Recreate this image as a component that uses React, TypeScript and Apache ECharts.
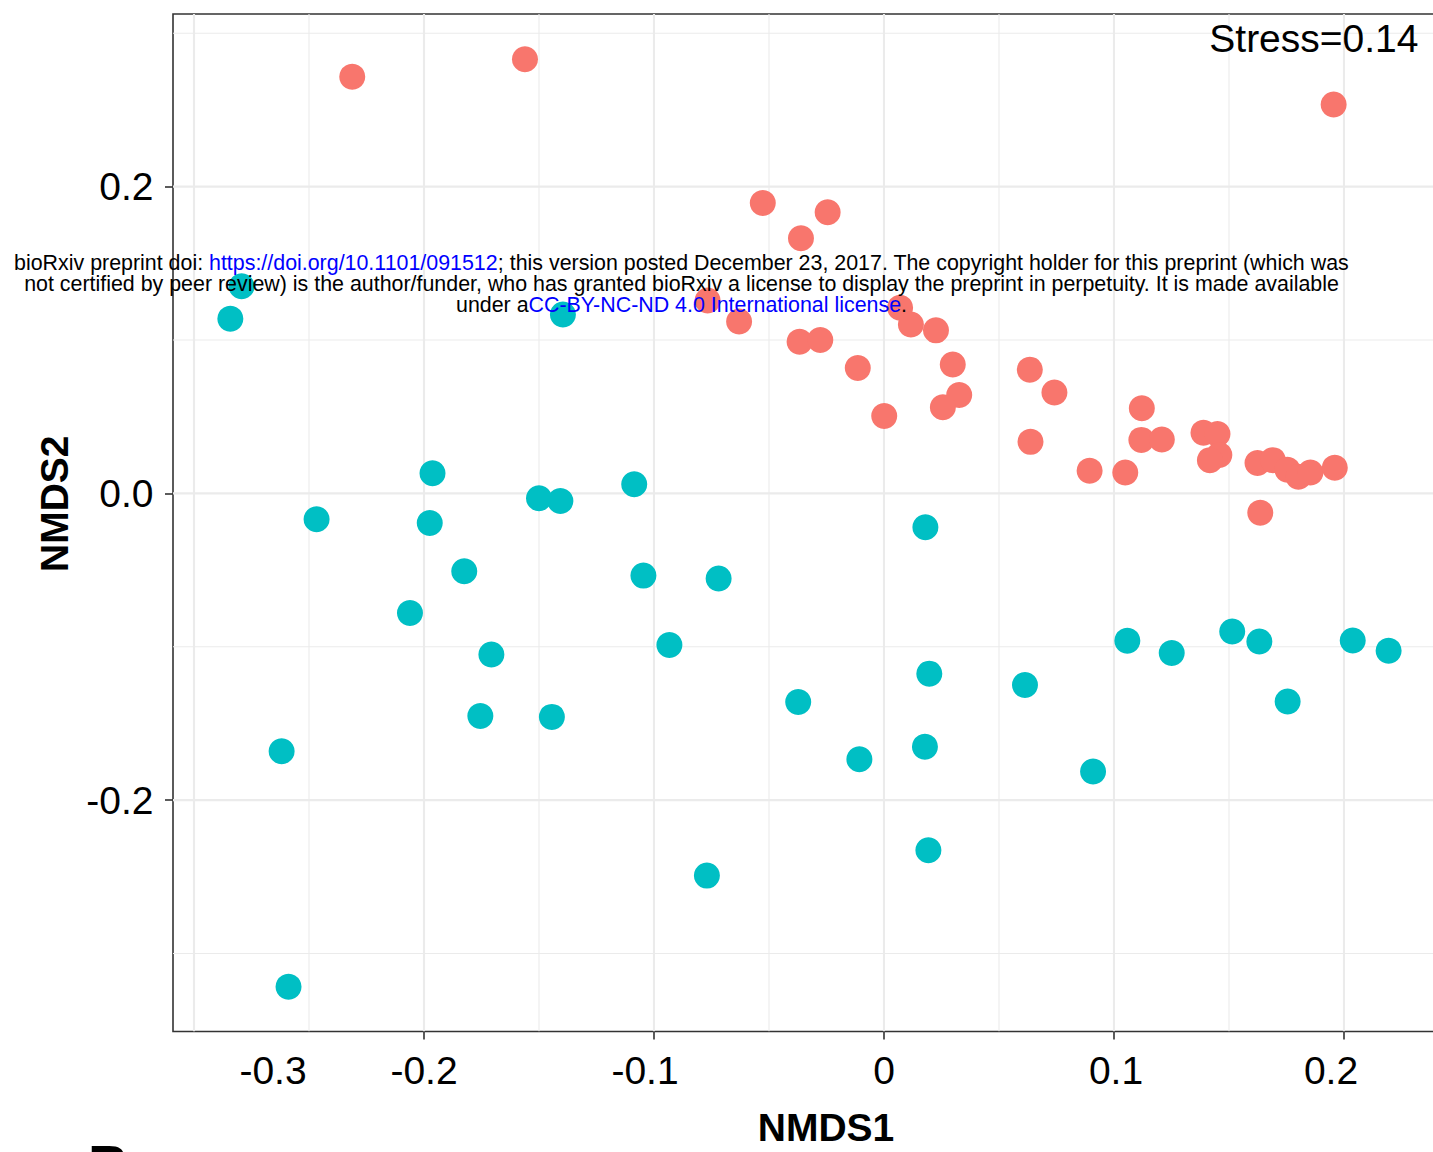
import React, { useEffect, useRef } from 'react';
import * as echarts from 'echarts';

// ---- data (NMDS scores) ----
const group1NMDS1 = [
  -0.2312, -0.1561, 0.1955, -0.0527, -0.0245, -0.0361, -0.0767, -0.063, 0.007, 0.0117,
  0.0226, -0.0367, -0.0277, -0.0114, 0.0299, 0.0327, 0.0256, 0.0001, 0.0634, 0.0741,
  0.0637, 0.1121, 0.1119, 0.1208, 0.1389, 0.145, 0.1458, 0.1417, 0.0894, 0.1049,
  0.1624, 0.1691, 0.1754, 0.1802, 0.1854, 0.196, 0.1636,
];
const group1NMDS2 = [
  0.2716, 0.2831, 0.2535, 0.1894, 0.1833, 0.1664, 0.1258, 0.1121, 0.1211, 0.1102,
  0.1063, 0.0989, 0.1, 0.0818, 0.084, 0.0642, 0.0562, 0.0505, 0.0807, 0.0658,
  0.0336, 0.0555, 0.0349, 0.0352, 0.0395, 0.0388, 0.025, 0.0217, 0.0147, 0.0137,
  0.0199, 0.0217, 0.0154, 0.0108, 0.0137, 0.0167, -0.0126,
];
const group2NMDS1 = [
  -0.2793, -0.2842, -0.1396, -0.1963, -0.2467, -0.1975, -0.15, -0.1407, -0.1086, -0.1825,
  -0.1046, -0.0719, -0.2061, -0.0933, -0.1707, -0.1755, -0.1444, -0.2619, -0.0373, -0.0107,
  0.0178, -0.077, 0.0193, -0.2589, 0.018, 0.0197, 0.0613, 0.0909, 0.1058, 0.1251,
  0.1514, 0.1632, 0.1755, 0.2038, 0.2194,
];
const group2NMDS2 = [
  0.1351, 0.1139, 0.1167, 0.0132, -0.0169, -0.0193, -0.0032, -0.005, 0.0059, -0.0507,
  -0.0536, -0.0555, -0.0779, -0.0989, -0.105, -0.1451, -0.1457, -0.1681, -0.136, -0.1733,
  -0.1652, -0.2492, -0.2327, -0.3217, -0.0221, -0.1175, -0.1249, -0.1813, -0.0961, -0.1041,
  -0.09, -0.0965, -0.1356, -0.0959, -0.1026,
];

// axis limits and breaks
const X_MIN = -0.30913;
const X_MAX = 0.2587;
const Y_MIN = -0.35083;
const Y_MAX = 0.31257;
const xMajorBreaks = [-0.3, -0.2, -0.1, 0, 0.1, 0.2];
const xMinorBreaks = [-0.25, -0.15, -0.05, 0.05, 0.15, 0.25];
const xTickValues = [-0.2, -0.1, 0, 0.1, 0.2];
const yMajorBreaks = [-0.2, 0, 0.2];
const yMinorBreaks = [-0.3, -0.1, 0.1, 0.3];
const stressLabel = 'Stress=0.14';

// layout-only offsets of the x tick labels (px), as placed in the original figure
const xLabelShift = [79, 0, -9, 0, 2, -13];

const FONT = '"Liberation Sans", Arial, Helvetica, sans-serif';
const VIEW_W = 1433;
const CHART_W = 1500; // panel runs past the right edge of the picture
const CHART_H = 1152;

function segments(xs: number[], ys: number[]) {
  const out: number[][] = [];
  xs.forEach((x) => out.push([x, Y_MIN, x, Y_MAX]));
  ys.forEach((y) => out.push([X_MIN, y, X_MAX, y]));
  return out;
}

function gridSeries(data: number[][], width: number, z: number) {
  return {
    type: 'custom',
    coordinateSystem: 'cartesian2d',
    silent: true,
    z,
    clip: true,
    encode: { x: [0, 2], y: [1, 3] },
    data,
    renderItem: (_params: any, api: any) => {
      const p1 = api.coord([api.value(0), api.value(1)]);
      const p2 = api.coord([api.value(2), api.value(3)]);
      return {
        type: 'line',
        shape: { x1: p1[0], y1: p1[1], x2: p2[0], y2: p2[1] },
        style: { stroke: '#EBEBEB', lineWidth: width, fill: null },
      };
    },
  };
}

function fmtX(v: number) {
  const r = Math.round(v * 10) / 10;
  return r === 0 ? '0' : String(r);
}

export default function App() {
  const ref = useRef<HTMLDivElement>(null);

  useEffect(() => {
    if (!ref.current) return;
    const chart = echarts.init(ref.current, undefined, { renderer: 'svg' });

    const rich: Record<string, any> = {};
    xLabelShift.forEach((s, i) => {
      rich['p' + i] = {
        fontSize: 39,
        fontFamily: FONT,
        color: '#000',
        padding: s >= 0 ? [0, 0, 0, 2 * s] : [0, -2 * s, 0, 0],
      };
    });

    const option: any = {
      animation: false,
      backgroundColor: '#fff',
      grid: {
        left: 173,
        top: 14,
        right: CHART_W - 1479,
        bottom: 118.5,
        show: true,
        borderColor: '#333',
        borderWidth: 1.6,
        backgroundColor: 'transparent',
      },
      xAxis: {
        type: 'value',
        position: 'bottom',
        min: X_MIN,
        max: X_MAX,
        splitLine: { show: false },
        axisLine: { show: false, onZero: false },
        axisTick: {
          show: true,
          customValues: xTickValues,
          length: 8,
          lineStyle: { color: '#333', width: 1.6 },
        },
        axisLabel: {
          customValues: xMajorBreaks,
          margin: 19.5,
          fontSize: 39,
          fontFamily: FONT,
          color: '#000',
          rich,
          formatter: (v: number) => {
            let idx = 0;
            xMajorBreaks.forEach((b, i) => {
              if (Math.abs(b - v) < 1e-6) idx = i;
            });
            return '{p' + idx + '|' + fmtX(v) + '}';
          },
        },
        name: 'NMDS1',
        nameLocation: 'middle',
        nameGap: 76.5,
        nameTextStyle: { fontSize: 39, fontWeight: 'bold', fontFamily: FONT, color: '#000' },
      },
      yAxis: {
        type: 'value',
        position: 'left',
        min: Y_MIN,
        max: Y_MAX,
        splitLine: { show: false },
        axisLine: { show: false, onZero: false },
        axisTick: {
          show: true,
          customValues: yMajorBreaks,
          length: 8,
          lineStyle: { color: '#333', width: 1.6 },
        },
        axisLabel: {
          customValues: yMajorBreaks,
          margin: 19.5,
          fontSize: 39,
          fontFamily: FONT,
          color: '#000',
          formatter: (v: number) => v.toFixed(1),
        },
        name: 'NMDS2',
        nameLocation: 'middle',
        nameGap: 99,
        nameRotate: 90,
        nameTextStyle: {
          fontSize: 39,
          fontWeight: 'bold',
          fontFamily: FONT,
          color: '#000',
          padding: [0, 0, 0, 38],
        },
      },
      series: [
        gridSeries(segments(xMinorBreaks, yMinorBreaks), 1.1, 1),
        gridSeries(segments(xMajorBreaks, yMajorBreaks), 2.1, 2),
        {
          type: 'scatter',
          name: 'Group 2',
          silent: true,
          z: 3,
          symbol: 'circle',
          symbolSize: 26,
          itemStyle: { color: '#00BFC4', opacity: 1 },
          data: group2NMDS1.map((x, i) => [x, group2NMDS2[i]]),
        },
        {
          type: 'scatter',
          name: 'Group 1',
          silent: true,
          z: 3,
          symbol: 'circle',
          symbolSize: 26,
          itemStyle: { color: '#F8766D', opacity: 1 },
          data: group1NMDS1.map((x, i) => [x, group1NMDS2[i]]),
        },
      ],
      graphic: [
        {
          type: 'text',
          z: 50,
          silent: true,
          style: {
            text: stressLabel,
            x: 1418.5,
            y: 38.5,
            textAlign: 'right',
            textVerticalAlign: 'middle',
            font: 'normal 39px ' + FONT,
            fill: '#000',
          },
        },
        {
          type: 'text',
          z: 100,
          silent: true,
          style: {
            text:
              'bioRxiv preprint doi: {l|https://doi.org/10.1101/091512}; this version posted December 23, 2017. The copyright holder for this preprint (which was\n' +
              'not certified by peer review) is the author/funder, who has granted bioRxiv a license to display the preprint in perpetuity. It is made available\n' +
              'under a{l|CC-BY-NC-ND 4.0 International license}.',
            x: 681.5,
            y: 284,
            textAlign: 'center',
            textVerticalAlign: 'middle',
            font: 'normal 21.4px ' + FONT,
            fill: '#000',
            lineHeight: 21.4,
            rich: {
              l: { fill: '#0000FF', font: 'normal 21.4px ' + FONT, lineHeight: 21.4 },
            },
          },
        },
        {
          type: 'text',
          z: 100,
          silent: true,
          style: {
            text: 'B',
            x: 88,
            y: 1164,
            textAlign: 'left',
            textVerticalAlign: 'middle',
            font: 'bold 56px ' + FONT,
            fill: '#000',
          },
        },
      ],
    };

    chart.setOption(option);
    return () => chart.dispose();
  }, []);

  return (
    <div
      style={{
        position: 'fixed',
        left: 0,
        top: 0,
        width: VIEW_W,
        height: CHART_H,
        overflow: 'hidden',
        background: '#fff',
      }}
    >
      <div ref={ref} style={{ width: CHART_W, height: CHART_H }} />
    </div>
  );
}
